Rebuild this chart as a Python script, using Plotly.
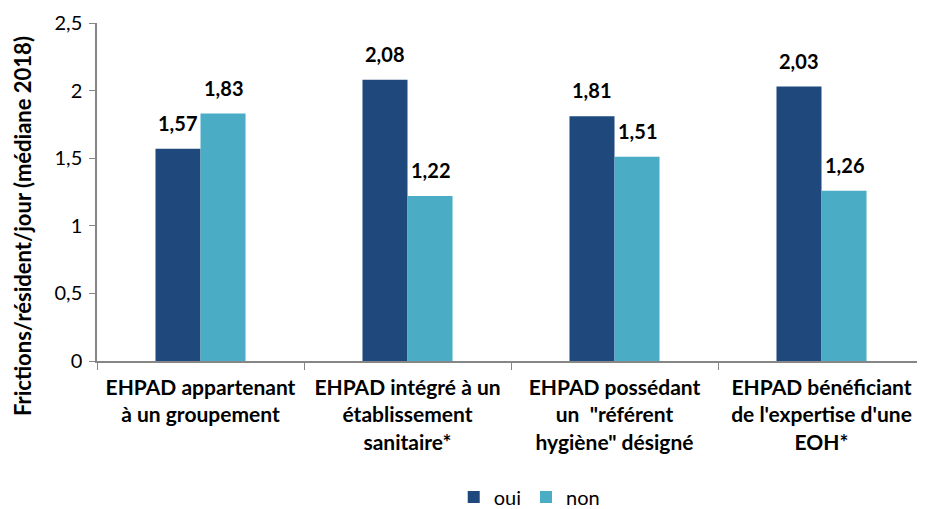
import plotly.graph_objects as go

categories = [
    "EHPAD appartenant<br>à un groupement",
    "EHPAD intégré à un<br>établissement<br>sanitaire*",
    "EHPAD possédant<br>un  \"référent<br>hygiène\" désigné",
    "EHPAD bénéficiant<br>de l'expertise d'une<br>EOH*",
]
oui = [1.57, 2.08, 1.81, 2.03]
non = [1.83, 1.22, 1.51, 1.26]
y_title = "Frictions/résident/jour (médiane 2018)"

FONT = "Lato, Carlito, Calibri, sans-serif"
C_OUI = "#1F497D"
C_NON = "#4BACC6"
AX = "#868686"

# page body has an 8px margin; plot area on page: x 97..925, y 23..361
PL, PR, PT, PB = 97, 925, 23, 361
OFF = 8
W, H = 925 - OFF, 509 - OFF
PW, PH = PR - PL, PB - PT

fig = go.Figure()
fig.add_trace(go.Bar(name="oui", x=categories, y=oui, marker_color=C_OUI,
                     marker_line_width=0))
fig.add_trace(go.Bar(name="non", x=categories, y=non, marker_color=C_NON,
                     marker_line_width=0))

for i, (a, b) in enumerate(zip(oui, non)):
    for val, off in ((a, -0.11), (b, 0.11)):
        fig.add_annotation(x=i + off, y=val, xref="x", yref="y",
                           text="<b>%s</b>" % f"{val:.2f}".replace(".", ","),
                           showarrow=False, yanchor="bottom", yshift=12,
                           font=dict(family=FONT, size=20, color="#000000"))

fig.add_annotation(x=(22 - PL) / PW, y=(PB - 226) / PH, xref="paper", yref="paper",
                   text="<b>%s</b>" % y_title, textangle=-90, showarrow=False,
                   xanchor="center", yanchor="middle",
                   font=dict(family=FONT, size=22, color="#000000"))

fig.update_layout(
    width=W, height=H,
    margin=dict(l=PL - OFF, r=W - (PR - OFF), t=PT - OFF, b=H - (PB - OFF),
                autoexpand=False),
    plot_bgcolor="white", paper_bgcolor="white",
    separators=", ",
    barmode="group", bargap=0.565, bargroupgap=0,
    font=dict(family=FONT, size=20, color="#000000"),
    showlegend=True,
    legend=dict(orientation="h", x=0.522, xanchor="center",
                y=(PB - 497) / PH, yanchor="middle",
                font=dict(family=FONT, size=20), itemwidth=30,
                traceorder="normal"),
)
fig.update_yaxes(range=[0, 2.5], dtick=0.5, showgrid=False, showline=True,
                 linecolor=AX, linewidth=1.5, ticks="outside", ticklen=6,
                 tickcolor=AX, tickfont=dict(family=FONT, size=20, color="#000"),
                 zeroline=False, tickformat=",.1~f", automargin=False,
                 ticklabelstandoff=3)
fig.update_xaxes(showline=True, linecolor=AX, linewidth=1.5, ticks="outside",
                 tickson="boundaries", ticklen=7, tickcolor=AX,
                 tickfont=dict(family=FONT, size=21, color="#000"),
                 tickprefix="<b>", ticksuffix="</b>", automargin=False,
                 ticklabelstandoff=7)

fig.write_html("out.html")
